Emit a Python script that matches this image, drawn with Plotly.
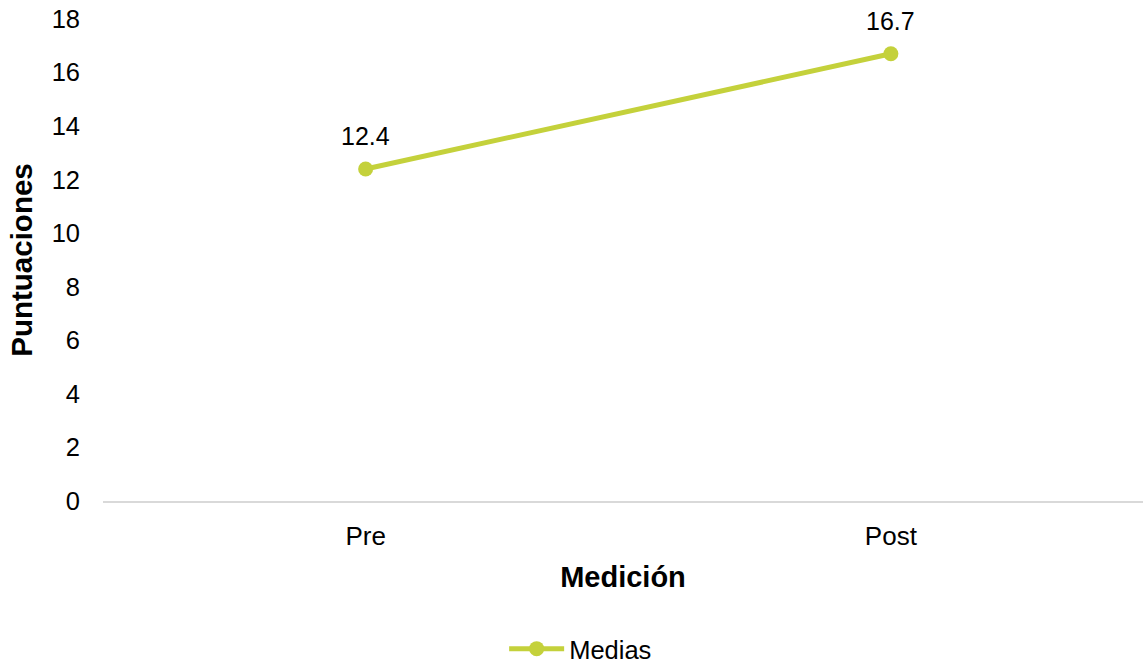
import plotly.graph_objects as go

categories = ["Pre", "Post"]
medias = [12.4, 16.7]
labels = ["12.4", "16.7"]
y_ticks = [0, 2, 4, 6, 8, 10, 12, 14, 16, 18]

color = "#C4D13B"
font_family = "Liberation Sans, Arial, sans-serif"

fig = go.Figure()
fig.add_trace(go.Scatter(
    x=categories, y=medias, name="Medias",
    mode="lines+markers",
    line=dict(color=color, width=5),
    marker=dict(color=color, size=15),
))

for cat, val, lab in zip(categories, medias, labels):
    fig.add_annotation(x=cat, y=val, text=lab, showarrow=False,
                       xref="x", yref="y", yshift=33,
                       font=dict(size=25, color="#000000", family=font_family))

fig.update_layout(
    width=1143, height=663,
    margin=dict(l=103, r=0, t=19, b=162),
    paper_bgcolor="white", plot_bgcolor="white",
    font=dict(family=font_family, size=25, color="#000000"),
    showlegend=True,
    legend=dict(orientation="h", xref="container", yref="container",
                x=0.508, y=0.021, xanchor="center", yanchor="middle",
                itemwidth=55, font=dict(size=25.5)),
    xaxis=dict(
        range=[-0.5, 1.48], showgrid=False, zeroline=False,
        showline=True, linecolor="#D9D9D9", linewidth=2,
        ticks="", ticklabelstandoff=11,
        tickfont=dict(size=26),
        title=dict(text="<b>Medición</b>", font=dict(size=29), standoff=16),
    ),
    yaxis=dict(
        range=[0, 18], tickvals=y_ticks, showgrid=False, zeroline=False,
        showline=False, ticks="", ticklabelstandoff=22,
        tickfont=dict(size=25.5),
        title=dict(text="<b>Puntuaciones</b>", font=dict(size=29.5), standoff=10),
    ),
)

fig.write_html("out.html")
